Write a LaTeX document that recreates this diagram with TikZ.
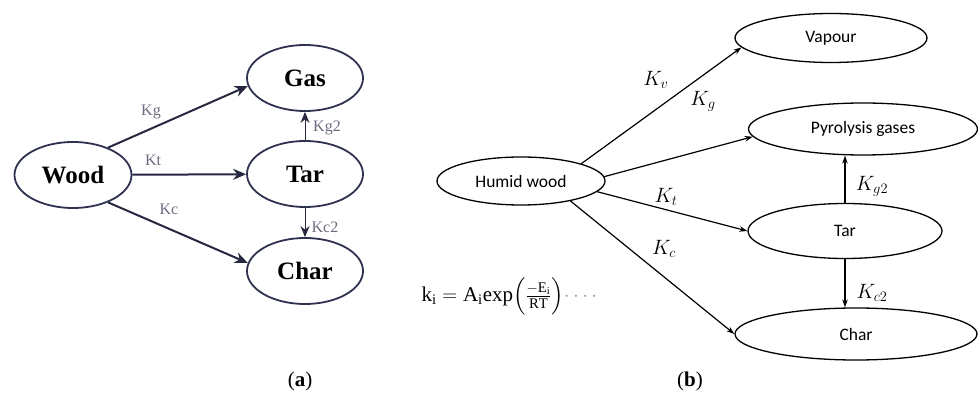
\documentclass[tikz,border=0pt]{standalone}
\usepackage{amsmath}
\usepackage{fontspec}
\setmainfont{Liberation Serif}
\newfontfamily\calibrifont{Carlito}
\usepackage{tikz}
\usetikzlibrary{arrows.meta,positioning,shapes.geometric,calc}
\usepackage{xcolor}
\definecolor{navyline}{HTML}{2E3150}
\definecolor{navyarrow}{HTML}{25283F}
\definecolor{ratelabel}{HTML}{6E6A80}
\definecolor{dotgray}{HTML}{9A9A9A}

\begin{document}
\begin{tikzpicture}[
  x=1pt, y=-1pt,
  >=Stealth,
  oldbox/.style={
    draw=navyline,
    fill=white,
    ellipse,
    line width=1.8pt,
    inner sep=0pt,
    font=\fontsize{25pt}{29pt}\selectfont\bfseries
  },
  newbox/.style={
    draw=black,
    fill=white,
    ellipse,
    line width=1.3pt,
    inner sep=0pt,
    font=\calibrifont\fontsize{17.5pt}{21pt}\selectfont
  },
  oldarrow/.style={
    ->, line width=2pt, navyarrow,
    arrows={-Stealth[length=13pt, width=11pt]}
  },
  oldthin/.style={
    ->, line width=1pt, navyarrow,
    arrows={-Stealth[length=11pt, width=9pt]}
  },
  newarrow/.style={
    ->, line width=1.2pt, black,
    arrows={-Stealth[length=8pt, width=5.5pt]}
  },
  oldrate/.style={
    text=ratelabel,
    font=\fontsize{16pt}{19pt}\selectfont
  },
  newrate/.style={
    font=\fontsize{21pt}{24pt}\selectfont
  }
]
  \useasboundingbox (0,0) rectangle (978,403);

  % ---------------------------------------------------------------------------
  % (a) Three-product scheme
  % ---------------------------------------------------------------------------
  \node[oldbox, minimum width=117pt, minimum height=66pt] (wood) at (73,175) {Wood};
  \node[oldbox, minimum width=116pt, minimum height=66pt] (gas) at (305,78) {Gas};
  \node[oldbox, minimum width=116pt, minimum height=66pt] (tar) at (305,174) {Tar};
  \node[oldbox, minimum width=116pt, minimum height=66pt] (char) at (305,271) {Char};

  \draw[oldarrow] (wood.38) -- (gas.188);
  \draw[oldarrow] (wood) -- (tar);
  \draw[oldarrow] (wood.-38) -- (char.172);
  \draw[oldthin] (tar) -- (gas);
  \draw[oldthin] (tar) -- (char);

  \node[oldrate] (kga) at (151,112) {Kg};
  \node[oldrate] (kta) at (153,160) {Kt};
  \node[oldrate] (kca) at (169,209) {Kc};
  \node[oldrate] (kg2a) at (327,128) {Kg2};
  \node[oldrate] (kc2a) at (325,227) {Kc2};

  % ---------------------------------------------------------------------------
  % (b) Scheme with drying step
  % ---------------------------------------------------------------------------
  \node[newbox, minimum width=168pt, minimum height=48pt] (humid) at (521,181) {Humid wood};
  \node[newbox, minimum width=192pt, minimum height=49pt] (vapour) at (831,38) {Vapour};
  \node[newbox, minimum width=229pt, minimum height=52pt] (pyro) at (863,129) {Pyrolysis gases};
  \node[newbox, minimum width=194pt, minimum height=55pt] (tarb) at (845,231) {Tar};
  \node[newbox, minimum width=242pt, minimum height=52pt] (charb) at (856,334) {Char};

  \draw[newarrow] (humid.16) -- (vapour.186);
  \draw[newarrow] (humid.3) -- (pyro.184);
  \draw[newarrow] (humid.-8) -- (tarb.west);
  \draw[newarrow] (humid.-22) -- (charb.west);
  \draw[newarrow] (tarb.north) -- (tarb.north |- pyro.south);
  \draw[newarrow] (tarb.south) -- (tarb.south |- charb.north);

  \node[newrate] (kv) at (656,80) {$K_v$};
  \node[newrate] (kg) at (703,101) {$K_g$};
  \node[newrate] (kt) at (666,197) {$K_t$};
  \node[newrate] (kc) at (664,249) {$K_c$};
  \node[newrate] (kg2) at (872,186) {$K_{g2}$};
  \node[newrate] (kc2) at (872,293) {$K_{c2}$};

  \node[anchor=west, font=\fontsize{21pt}{25pt}\selectfont] (rate) at (418,296)
    {$\mathrm{k_i} = \mathrm{A_i}\mathrm{exp}\Bigl(\tfrac{-\mathrm{E_i}}{\mathrm{RT}}\Bigr)$\textcolor{dotgray}{$\cdots\cdot$}};

  % ---------------------------------------------------------------------------
  % Sub-figure captions
  % ---------------------------------------------------------------------------
  \node[font=\fontsize{21pt}{25pt}\selectfont] (capa) at (300,381) {(\textbf{a})};
  \node[font=\fontsize{21pt}{25pt}\selectfont] (capb) at (690,381) {(\textbf{b})};
\end{tikzpicture}
\end{document}
